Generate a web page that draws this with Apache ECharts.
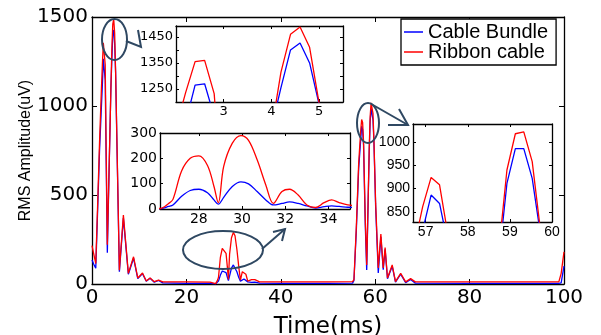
<!DOCTYPE html>
<html>
<head>
<meta charset="utf-8">
<script src="https://cdn.jsdelivr.net/npm/echarts@6.0.0/dist/echarts.min.js"></script>
<style>
  html, body { margin: 0; padding: 0; background: #fff; }
  #chart { width: 601px; height: 335px; }
</style>
</head>
<body>
<div id="chart"></div>
<script>
// time (ms) and RMS amplitude (uV)
const times = [0, 0.4, 0.8, 1.2, 1.6, 2.0, 2.2, 2.4, 2.6, 2.8, 3.0, 3.25, 4.0, 4.2, 4.4, 4.6, 4.8, 5.0, 5.2, 5.8,
  6.65, 7.7, 8.8, 9.7, 10.7, 11.5, 12.3, 13.2, 14.1, 15, 20, 25,
  26.2, 26.6, 26.8, 27.2, 27.6, 28.0, 28.4, 28.7, 28.9, 29.15, 29.55, 29.95, 30.3, 30.7, 31.1, 31.45,
  31.85, 32.2, 32.6, 33.0, 33.4, 33.8, 34.15, 34.5, 34.9, 35.5, 40, 50,
  55.2, 55.5, 56.0, 56.5, 56.93, 57.13, 57.33, 57.53, 57.9, 58.2, 58.5, 58.73, 58.93, 59.13, 59.33, 59.53, 59.73,
  60.1, 60.65, 61.2, 61.7, 62.1, 62.6, 63.6, 64.3, 65.4, 66.45, 67.5, 68.5, 80, 90, 98.9, 99.4, 100];
const cableBundle = [135, 110, 88, 420, 750, 1000, 1120, 1265, 1270, 1145, 700, 175, 1100, 1255, 1400, 1427, 1350, 1190, 900, 69,
  370, 55, 145, 30, 58, 15, 32, 10, 20, 6, 4, 4,
  1, 10, 16, 50, 73, 78, 64, 36, 19, 46, 89, 107, 99, 69, 36, 16,
  22, 28, 22, 12, 4, 9, 12, 10, 7, 5, 4, 4,
  5, 20, 300, 650, 810, 886, 868, 780, 330, 79, 450, 740, 911, 986, 986, 922, 799,
  430, 62, 265, 80, 195, 30, 100, 10, 55, 8, 25, 5, 4, 4, 4, 6, 100];
const ribbonCable = [215, 165, 115, 450, 800, 1100, 1235, 1355, 1360, 1232, 760, 220, 1090, 1315, 1460, 1488, 1410, 1195, 920, 78,
  388, 60, 153, 34, 62, 17, 34, 13, 22, 12, 12, 10,
  2, 22, 38, 150, 200, 210, 172, 89, 25, 168, 260, 290, 271, 194, 95, 22,
  69, 78, 55, 16, 6, 25, 36, 25, 16, 12, 12, 12,
  13, 25, 320, 680, 861, 924, 908, 800, 360, 107, 470, 760, 940, 1018, 1022, 958, 807,
  450, 90, 280, 90, 205, 34, 107, 13, 60, 12, 30, 12, 12, 12, 12, 60, 180];

const xTicksMain = [0, 20, 40, 60, 80, 100];
const yTicksMain = [0, 500, 1000, 1500];
const yLabels1 = [1250, 1350, 1450];
const yTicks1 = [1250, 1300, 1350, 1400, 1450];
const xLabels2 = [28, 30, 32, 34];
const yLabels2 = [0, 100, 200, 300];
const xLabels3 = [57, 58, 59, 60];
const yLabels3 = [850, 900, 950, 1000];

const BLUE = '#0000ff';
const RED = '#ff0000';
const INK = '#2f4862';

const chart = echarts.init(document.getElementById('chart'));

function pairs(vals) {
  return times.map((t, i) => [t, vals[i]]);
}

// one axis of a boxed plot; labels only on bottom/left
function axis(grid, pos, min, max, lab, tick, font, z) {
  const shown = pos === 'bottom' || pos === 'left';
  return {
    type: 'value', gridIndex: grid, position: pos, min: min, max: max, z: z,
    axisLine: { show: true, onZero: false, lineStyle: { color: '#000', width: 1.3 } },
    axisTick: { show: true, inside: true, length: grid === 0 ? 5 : 3,
      customValues: tick, lineStyle: { color: '#000', width: 1 } },
    axisLabel: { show: shown, customValues: lab, color: '#000',
      formatter: v => String(v),
      fontFamily: font.family, fontSize: font.size, margin: font.margin },
    splitLine: { show: false }
  };
}

const fMain = { family: 'DejaVu Sans', size: 20, margin: 4 };
const f1 = { family: 'DejaVu Sans', size: 13, margin: 3 };
const f2 = { family: 'DejaVu Sans', size: 14, margin: 3 };
const f3 = { family: 'Liberation Sans', size: 14, margin: 3 };

const xAxes = [
  axis(0, 'bottom', 0, 100, xTicksMain, xTicksMain, fMain, 1),
  axis(0, 'top', 0, 100, xTicksMain, xTicksMain, fMain, 1),
  axis(1, 'bottom', 2, 5.5, [3, 4, 5], [3, 4, 5], f1, 6),
  axis(1, 'top', 2, 5.5, [3, 4, 5], [3, 4, 5], f1, 6),
  axis(2, 'bottom', 26.2, 35, xLabels2, xLabels2, f2, 6),
  axis(2, 'top', 26.2, 35, xLabels2, xLabels2, f2, 6),
  axis(3, 'bottom', 56.7, 60, xLabels3, xLabels3, f3, 6),
  axis(3, 'top', 56.7, 60, xLabels3, xLabels3, f3, 6)
];
const yAxes = [
  axis(0, 'left', 0, 1500, yTicksMain, yTicksMain, fMain, 1),
  axis(0, 'right', 0, 1500, yTicksMain, yTicksMain, fMain, 1),
  axis(1, 'left', 1200, 1492, yLabels1, yTicks1, f1, 6),
  axis(1, 'right', 1200, 1492, yLabels1, yTicks1, f1, 6),
  axis(2, 'left', 0, 300, yLabels2, yLabels2, f2, 6),
  axis(2, 'right', 0, 300, yLabels2, yLabels2, f2, 6),
  axis(3, 'left', 828, 1039, yLabels3, yLabels3, f3, 6),
  axis(3, 'right', 828, 1039, yLabels3, yLabels3, f3, 6)
];
xAxes[0].name = 'Time(ms)';
xAxes[0].nameLocation = 'middle';
xAxes[0].nameGap = 32;
xAxes[0].nameMoveOverlap = false;
xAxes[0].nameTextStyle = { fontFamily: 'DejaVu Sans', fontSize: 23, color: '#000' };
yAxes[0].name = 'RMS Amplitude(uV)';
yAxes[0].nameLocation = 'middle';
yAxes[0].nameGap = 58;
yAxes[0].nameMoveOverlap = false;
yAxes[0].nameTextStyle = { fontFamily: 'Liberation Sans', fontSize: 16, color: '#000' };

const series = [];
[0, 1, 2, 3].forEach(g => {
  [['Cable Bundle', cableBundle, BLUE], ['Ribbon cable', ribbonCable, RED]].forEach(s => {
    series.push({
      name: s[0], type: 'line', xAxisIndex: g * 2, yAxisIndex: g * 2,
      data: pairs(s[1]), showSymbol: false, symbol: 'none', clip: true,
      smooth: g === 2 ? 0.35 : false,
      z: g === 0 ? 2 : 7,
      color: s[2],
      lineStyle: { color: s[2], width: 1.3 },
      animation: false
    });
  });
});

const insetGrid = { show: true, backgroundColor: '#fff', borderWidth: 0, z: 5, outerBoundsMode: 'none' };

chart.setOption({
  animation: false,
  grid: [
    { left: 92, top: 17, width: 472, height: 267, outerBoundsMode: 'none' },
    Object.assign({ left: 176, top: 26, width: 167, height: 76 }, insetGrid),
    Object.assign({ left: 160, top: 133, width: 190, height: 76 }, insetGrid),
    Object.assign({ left: 413, top: 124, width: 139, height: 98 }, insetGrid)
  ],
  xAxis: xAxes,
  yAxis: yAxes,
  legend: {
    data: ['Cable Bundle', 'Ribbon cable'],
    orient: 'vertical', left: 401, top: 19, z: 10,
    icon: 'rect', itemWidth: 19, itemHeight: 1.5, itemGap: 0,
    padding: [3, 8, 3, 3],
    backgroundColor: '#fff', borderColor: '#000', borderWidth: 1.3,
    textStyle: { fontFamily: 'Liberation Sans', fontSize: 20, lineHeight: 20, color: '#000' }
  },
  series: series,
  graphic: [
    { type: 'ellipse', z: 20, shape: { cx: 114.5, cy: 39.5, rx: 12.5, ry: 20.5 },
      style: { fill: 'none', stroke: INK, lineWidth: 2 } },
    { type: 'polyline', z: 20, shape: { points: [[138, 30], [141, 47], [126, 41]] },
      style: { fill: 'none', stroke: INK, lineWidth: 2 } },
    { type: 'ellipse', z: 20, shape: { cx: 223, cy: 250, rx: 40, ry: 19 },
      style: { fill: 'none', stroke: INK, lineWidth: 2 } },
    { type: 'polyline', z: 20, shape: { points: [[262, 249], [285, 229]] },
      style: { fill: 'none', stroke: INK, lineWidth: 2 } },
    { type: 'polyline', z: 20, shape: { points: [[273, 232], [285, 229], [282, 241]] },
      style: { fill: 'none', stroke: INK, lineWidth: 2 } },
    { type: 'ellipse', z: 20, shape: { cx: 368, cy: 123, rx: 11, ry: 20 },
      style: { fill: 'none', stroke: INK, lineWidth: 2 } },
    { type: 'polyline', z: 20, shape: { points: [[373, 105], [408, 125]] },
      style: { fill: 'none', stroke: INK, lineWidth: 2 } },
    { type: 'polyline', z: 20, shape: { points: [[399, 109], [408, 125], [388, 125]] },
      style: { fill: 'none', stroke: INK, lineWidth: 2 } }
  ]
});
</script>
</body>
</html>
